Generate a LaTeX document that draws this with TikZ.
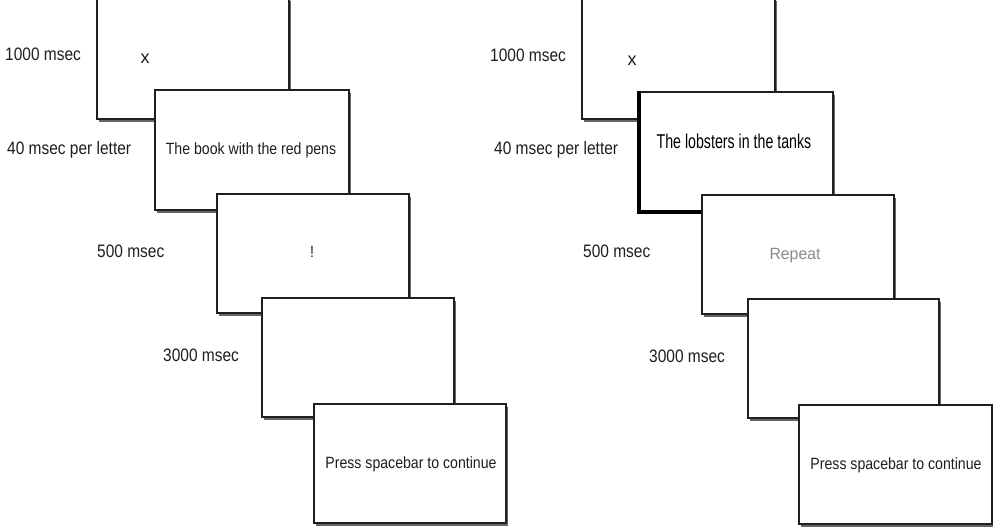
\documentclass[tikz,border=0pt]{standalone}
\usepackage{fontspec}
\usetikzlibrary{shadows}
\newfontfamily\labfont[FakeStretch=0.86]{Liberation Sans}
\newfontfamily\boxfont[FakeStretch=0.866]{Liberation Sans}
\newfontfamily\bigfont[FakeStretch=0.71]{Liberation Sans}
\newfontfamily\repfont[FakeStretch=0.97]{Liberation Sans}
\newfontfamily\xfont{Liberation Sans}
\definecolor{ink}{HTML}{1E1E1E}
\definecolor{repgray}{HTML}{8A8A8A}
\tikzset{
  scr/.style={draw=black!88, line width=2bp, fill=white, rectangle, inner sep=0pt,
    anchor=north west,
    general shadow={fill=black!60, shadow xshift=2bp, shadow yshift=-2.8bp}},
  lab/.style={anchor=base west, inner sep=0pt, text=ink, font=\labfont\fontsize{18bp}{20bp}\selectfont},
  btxt/.style={anchor=base, inner sep=0pt, text=ink, font=\boxfont\fontsize{16.3bp}{18bp}\selectfont},
  xtxt/.style={anchor=base, inner sep=0pt, text=ink, font=\xfont\fontsize{18bp}{20bp}\selectfont},
  bigtxt/.style={anchor=base, inner sep=0pt, text=black, font=\bigfont\fontsize{20bp}{22bp}\selectfont},
  reptxt/.style={anchor=base, inner sep=0pt, text=repgray, font=\repfont\fontsize{16.3bp}{18bp}\selectfont}
}
\begin{document}
\begin{tikzpicture}[x=1bp,y=-1bp]
\useasboundingbox[fill=white] (0,0) rectangle (993,527);
% ---------- left panel ----------
\node[scr, minimum width=192bp, minimum height=121bp] (L1) at (96,-3) {};
\node[xtxt] (L1t) at (145,64) {x};
\node[scr, minimum width=194bp, minimum height=120bp] (L2) at (154,89) {};
\node[btxt] (L2t) at (251,155) {The book with the red pens};
\node[scr, minimum width=192bp, minimum height=119bp] (L3) at (216,193) {};
\node[btxt] (L3t) at (312,258) {!};
\node[scr, minimum width=192bp, minimum height=119bp] (L4) at (261,297) {};
\node[scr, minimum width=192bp, minimum height=119bp] (L5) at (313,403) {};
\node[btxt] (L5t) at (411,468) {Press spacebar to continue};
\node[lab] (La) at (5,61) {1000 msec};
\node[lab] (Lb) at (7,155) {40 msec per letter};
\node[lab] (Lc) at (97,258) {500 msec};
\node[lab] (Ld) at (163,362) {3000 msec};
% ---------- right panel ----------
\node[scr, minimum width=193bp, minimum height=121bp] (R1) at (581,-3) {};
\node[xtxt] (R1t) at (632,66) {x};
\node[scr, minimum width=193bp, minimum height=119bp] (R2) at (639,91) {};
\draw[line width=3.8bp, black] (R2.north west) -- (R2.south west) -- (R2.south east);
\node[bigtxt] (R2t) at (734,149) {The lobsters in the tanks};
\node[scr, minimum width=192bp, minimum height=119bp] (R3) at (701,194) {};
\node[reptxt] (R3t) at (795,260) {Repeat};
\node[scr, minimum width=191bp, minimum height=119bp] (R4) at (747,298) {};
\node[scr, minimum width=193bp, minimum height=119bp] (R5) at (798,404) {};
\node[btxt] (R5t) at (896,469) {Press spacebar to continue};
\node[lab] (Ra) at (490,62) {1000 msec};
\node[lab] (Rb) at (494,155) {40 msec per letter};
\node[lab] (Rc) at (583,258) {500 msec};
\node[lab] (Rd) at (649,363) {3000 msec};
\end{tikzpicture}
\end{document}
